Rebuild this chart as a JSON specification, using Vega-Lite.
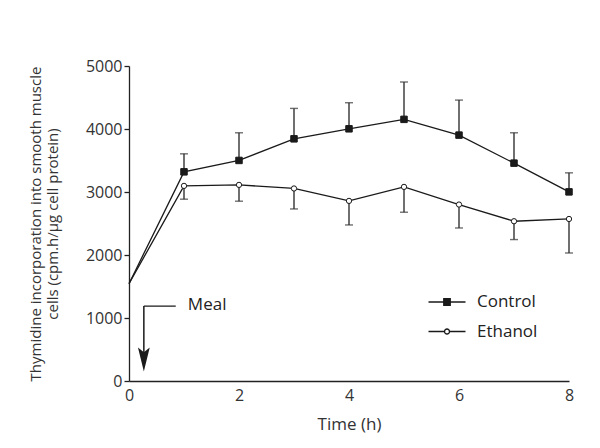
{
  "$schema": "https://vega.github.io/schema/vega-lite/v6.json",
  "width": 440,
  "height": 315,
  "autosize": "none",
  "padding": {"left": 129, "top": 66, "right": 31, "bottom": 67},
  "background": "white",
  "config": {
    "view": {"stroke": null},
    "font": "Open Sans",
    "axis": {
      "grid": false,
      "domainColor": "#222222",
      "domainWidth": 1.3,
      "tickColor": "#222222",
      "tickWidth": 1.3,
      "labelColor": "#333333",
      "labelFontSize": 16,
      "labelFont": "Open Sans",
      "titleFont": "Open Sans",
      "titleFontWeight": "normal",
      "titleColor": "#333333"
    },
    "legend": {"padding": 0, "symbolStrokeColor": "#1a1a1a", "symbolStrokeWidth": 1.3}
  },
  "datasets": {
    "obs": [
      {"t": 0, "series": "Control", "value": 1545, "err": null},
      {"t": 1, "series": "Control", "value": 3320, "err": 3606},
      {"t": 2, "series": "Control", "value": 3501, "err": 3940},
      {"t": 3, "series": "Control", "value": 3844, "err": 4327},
      {"t": 4, "series": "Control", "value": 4003, "err": 4417},
      {"t": 5, "series": "Control", "value": 4153, "err": 4746},
      {"t": 6, "series": "Control", "value": 3903, "err": 4459},
      {"t": 7, "series": "Control", "value": 3458, "err": 3940},
      {"t": 8, "series": "Control", "value": 3002, "err": 3304},
      {"t": 0, "series": "Ethanol", "value": 1545, "err": null},
      {"t": 1, "series": "Ethanol", "value": 3097, "err": 2886},
      {"t": 2, "series": "Ethanol", "value": 3113, "err": 2854},
      {"t": 3, "series": "Ethanol", "value": 3056, "err": 2731},
      {"t": 4, "series": "Ethanol", "value": 2859, "err": 2477},
      {"t": 5, "series": "Ethanol", "value": 3081, "err": 2679},
      {"t": 6, "series": "Ethanol", "value": 2801, "err": 2429},
      {"t": 7, "series": "Ethanol", "value": 2536, "err": 2245},
      {"t": 8, "series": "Ethanol", "value": 2572, "err": 2032}
    ],
    "meal": [
      {"x": 0.27, "y": 1189, "xEnd": 0.85, "shaftEnd": 450, "tipY": 343, "label": "Meal", "labelX": 1.07, "labelY": 1200}
    ]
  },
  "layer": [
    {
      "data": {"name": "obs"},
      "transform": [{"filter": "datum.err != null"}],
      "mark": {"type": "rule", "color": "#333333", "strokeWidth": 1.4},
      "encoding": {
        "x": {"field": "t", "type": "quantitative"},
        "y": {"field": "value", "type": "quantitative"},
        "y2": {"field": "err"}
      }
    },
    {
      "data": {"name": "obs"},
      "transform": [{"filter": "datum.err != null"}],
      "mark": {"type": "tick", "orient": "horizontal", "color": "#333333", "size": 8, "thickness": 1.4},
      "encoding": {
        "x": {"field": "t", "type": "quantitative"},
        "y": {"field": "err", "type": "quantitative"}
      }
    },
    {
      "data": {"name": "obs"},
      "mark": {"type": "line", "color": "#1a1a1a", "strokeWidth": 1.3},
      "encoding": {
        "x": {
          "field": "t",
          "type": "quantitative",
          "scale": {"domain": [0, 8], "nice": false, "zero": false},
          "axis": {
            "values": [0, 2, 4, 6, 8],
            "title": "Time (h)",
            "titleFontSize": 17,
            "titlePadding": 13,
            "ticks": false,
            "labelPadding": 6,
            "labelFlush": false
          }
        },
        "y": {
          "field": "value",
          "type": "quantitative",
          "scale": {"domain": [0, 5000], "nice": false},
          "axis": {
            "values": [0, 1000, 2000, 3000, 4000, 5000],
            "format": "d",
            "title": ["Thymidine incorporation into smooth muscle", "cells (cpm.h/μg cell protein)"],
            "titleFontSize": 15,
            "titleLineHeight": 17,
            "titlePadding": 25,
            "tickSize": 5,
            "labelPadding": 2,
            "labelFlush": false
          }
        },
        "detail": {"field": "series", "type": "nominal"}
      }
    },
    {
      "data": {"name": "obs"},
      "transform": [{"filter": "datum.t > 0"}],
      "mark": {"type": "point", "filled": true, "stroke": "#1a1a1a", "strokeWidth": 1, "opacity": 1},
      "encoding": {
        "x": {"field": "t", "type": "quantitative"},
        "y": {"field": "value", "type": "quantitative"},
        "shape": {
          "condition": {"test": "datum.series === 'Control'", "value": "square"},
          "value": "circle"
        },
        "fill": {
          "condition": {"test": "datum.series === 'Control'", "value": "#1a1a1a"},
          "value": "#ffffff"
        },
        "size": {
          "condition": {"test": "datum.series === 'Control'", "value": 42},
          "value": 28
        }
      }
    },
    {
      "data": {"name": "obs"},
      "transform": [{"filter": "false"}],
      "mark": {"type": "point", "filled": false, "strokeWidth": 1.3, "opacity": 1},
      "encoding": {
        "x": {"field": "t", "type": "quantitative"},
        "y": {"field": "value", "type": "quantitative"},
        "shape": {
          "field": "series",
          "type": "nominal",
          "scale": {
            "domain": ["Control", "Ethanol"],
            "range": [
              "M-2,0H2M-0.35,-0.35H0.35V0.35H-0.35Z",
              "M-2,0H-0.27M0.27,0H2M0.27,0A0.27,0.27,0,1,1,-0.27,0A0.27,0.27,0,1,1,0.27,0Z"
            ]
          },
          "legend": {
            "title": null,
            "orient": "none",
            "legendX": 308,
            "legendY": 226,
            "symbolSize": 342,
            "labelOffset": 20,
            "labelFontSize": 17,
            "labelFont": "Open Sans",
            "labelColor": "#222222",
            "rowPadding": 11.5
          }
        },
        "fill": {
          "field": "series",
          "type": "nominal",
          "scale": {"domain": ["Control", "Ethanol"], "range": ["#1a1a1a", "#ffffff"]},
          "legend": {
            "title": null,
            "orient": "none",
            "legendX": 308,
            "legendY": 226,
            "symbolSize": 342,
            "labelOffset": 20,
            "labelFontSize": 17,
            "labelFont": "Open Sans",
            "labelColor": "#222222",
            "rowPadding": 11.5
          }
        },
        "stroke": {
          "field": "series",
          "type": "nominal",
          "scale": {"domain": ["Control", "Ethanol"], "range": ["#1a1a1a", "#1a1a1a"]},
          "legend": {
            "title": null,
            "orient": "none",
            "legendX": 308,
            "legendY": 226,
            "symbolSize": 342,
            "labelOffset": 20,
            "labelFontSize": 17,
            "labelFont": "Open Sans",
            "labelColor": "#222222",
            "rowPadding": 11.5
          }
        }
      }
    },
    {
      "data": {"name": "meal"},
      "mark": {"type": "rule", "color": "#1a1a1a", "strokeWidth": 1.5},
      "encoding": {
        "x": {"field": "x", "type": "quantitative"},
        "y": {"field": "y", "type": "quantitative"},
        "y2": {"field": "shaftEnd"}
      }
    },
    {
      "data": {"name": "meal"},
      "mark": {"type": "rule", "color": "#1a1a1a", "strokeWidth": 1.3},
      "encoding": {
        "x": {"field": "x", "type": "quantitative"},
        "x2": {"field": "xEnd"},
        "y": {"field": "y", "type": "quantitative"}
      }
    },
    {
      "data": {"name": "meal"},
      "mark": {"type": "point", "filled": true, "color": "#1a1a1a", "opacity": 1, "size": 576, "shape": "M0,1L-0.49,-1L0,-0.6L0.49,-1Z"},
      "encoding": {
        "x": {"field": "x", "type": "quantitative"},
        "y": {"field": "tipY", "type": "quantitative"}
      }
    },
    {
      "data": {"name": "meal"},
      "mark": {"type": "text", "align": "left", "baseline": "middle", "font": "Open Sans", "fontSize": 17, "color": "#222222"},
      "encoding": {
        "x": {"field": "labelX", "type": "quantitative"},
        "y": {"field": "labelY", "type": "quantitative"},
        "text": {"field": "label"}
      }
    }
  ]
}
